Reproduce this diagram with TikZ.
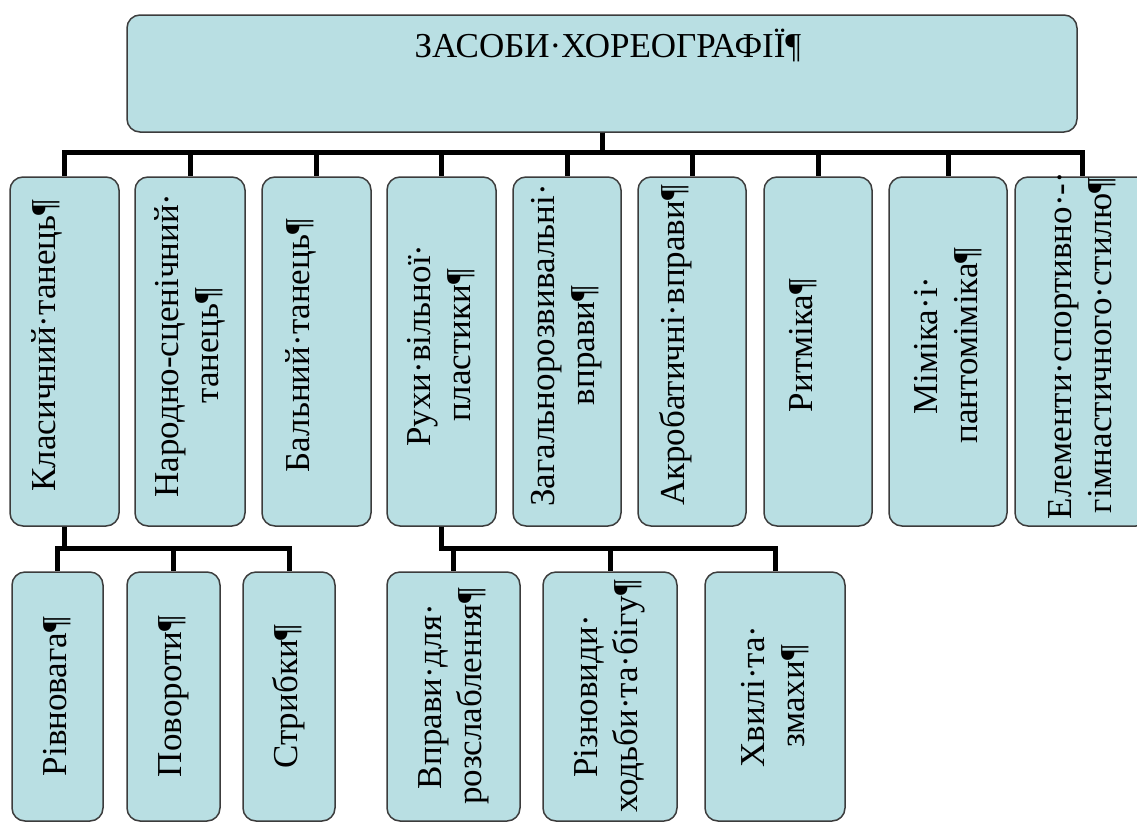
\documentclass[tikz,border=0pt]{standalone}
\usepackage{fontspec}
\setmainfont{Liberation Serif}
\usetikzlibrary{positioning}

\definecolor{celeste}{RGB}{185,223,227}
\definecolor{bordo}{RGB}{60,60,60}

\begin{document}
\begin{tikzpicture}[x=1pt,y=-1pt]
% stile dei riquadri
\tikzset{mybox/.style={rectangle, rounded corners=13pt, draw=bordo, line width=1.5pt, fill=celeste, inner sep=0pt}}
% stile del testo (ruotato nei riquadri)
\tikzset{mytext/.style={inner sep=0pt, align=center, font=\fontsize{35}{40}\selectfont}}
% stile delle linee di collegamento
\tikzset{mybus/.style={line width=5pt}}

% cornice
\useasboundingbox (0,0) rectangle (1137,825);

%----
% riquadro principale
\node[mybox, minimum width=950pt, minimum height=117pt] (top) at (602,73.5) {};
\node[mytext, anchor=base] (top-t) at (608,57) {ЗАСОБИ·ХОРЕОГРАФІЇ¶};

% primo livello
\foreach \n/\x/\w/\s/\t in {k1/64.5/109/-18/Класичний·танець¶,
  k2/190/110/0/Народно-сценічний·\\танець¶,
  k3/316.5/109/-16/Бальний·танець¶,
  k4/441.5/109/0/Рухи·вільної·\\пластики¶,
  k5/567/108/0/Загальнорозвивальні·\\вправи¶,
  k6/692/108/-16/Акробатичні·вправи¶,
  k7/818/108/-15/Ритміка¶,
  k8/948/118/0/Міміка·і·\\пантоміміка¶,
  k9/1082/134/0/Елементи·спортивно·-·\\гімнастичного·стилю¶}
{
\node[mybox, minimum width=\w pt, minimum height=349pt] (\n) at (\x,351.5) {};
\node[mytext, rotate=90] (\n-t) at ([xshift=\s pt, yshift=6pt]\n.center) {\t};
\draw[mybus] (top.south) -- ++(0,20) -| (\n.north);
}

% secondo livello sotto il classico
\foreach \n/\x/\w/\t in {r1/57.5/91/Рівновага¶,
  r2/173.5/93/Повороти¶,
  r3/289/92/Стрибки¶}
{
\node[mybox, minimum width=\w pt, minimum height=249pt] (\n) at (\x,696.5) {};
\node[mytext, rotate=90] (\n-t) at (\n.center) {\t};
\draw[mybus] (k1.south) -- ++(0,22) -| (\n.north);
}

% secondo livello sotto la plastica libera
\foreach \n/\x/\w/\t in {r4/453.5/133/Вправи·для·\\розслаблення¶,
  r5/610/134/Різновиди·\\ходьби·та·бігу¶,
  r6/775/140/Хвилі·та·\\змахи¶}
{
\node[mybox, minimum width=\w pt, minimum height=249pt] (\n) at (\x,696.5) {};
\node[mytext, rotate=90] (\n-t) at (\n.center) {\t};
\draw[mybus] (k4.south) -- ++(0,22) -| (\n.north);
}
\end{tikzpicture}
\end{document}
